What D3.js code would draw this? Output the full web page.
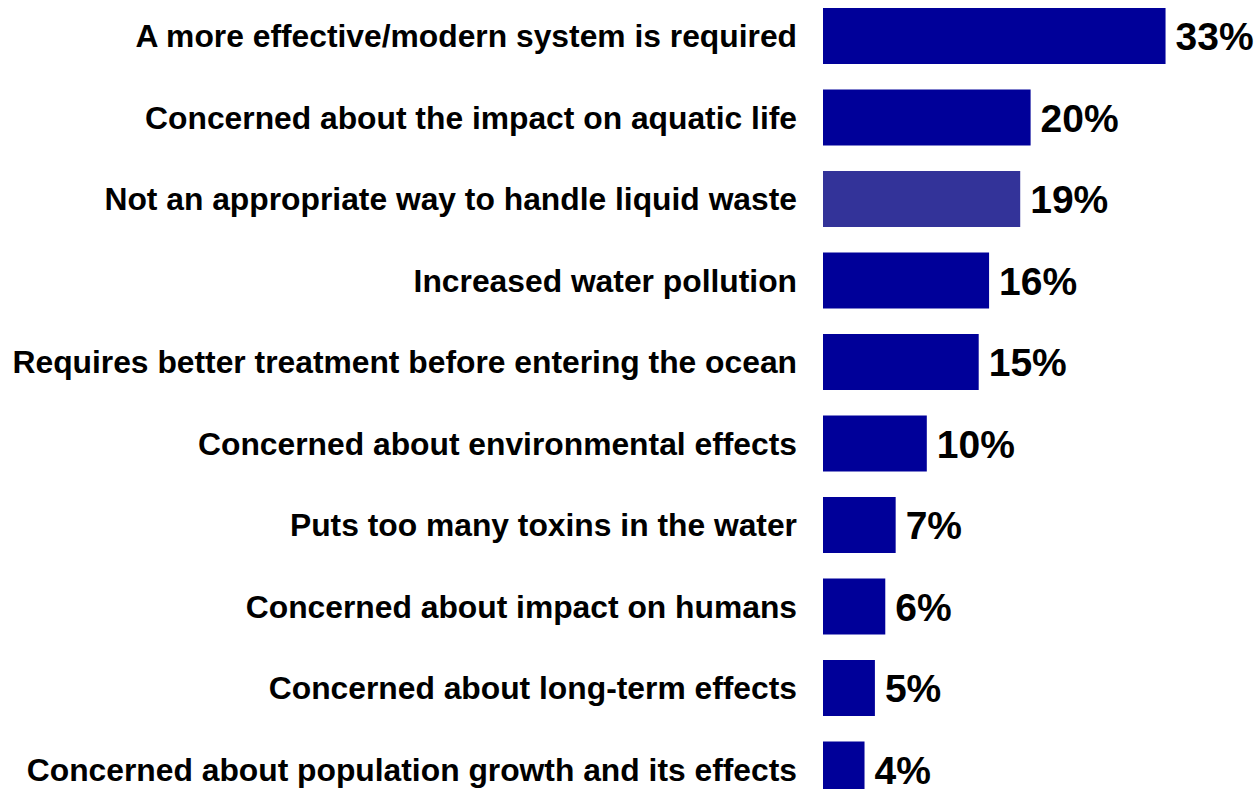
<!DOCTYPE html>
<html>
<head>
<meta charset="utf-8">
<script src="https://cdn.jsdelivr.net/npm/d3@7"></script>
<style>
  html, body { margin: 0; padding: 0; background: #fff; overflow: hidden; }
  svg { display: block; }
  text { font-family: "Liberation Sans", Arial, Helvetica, sans-serif; font-weight: bold; fill: #000; }
</style>
</head>
<body>
<svg id="chart" width="1259" height="789"></svg>
<script>
const categories = [
  "A more effective/modern system is required",
  "Concerned about the impact on aquatic life",
  "Not an appropriate way to handle liquid waste",
  "Increased water pollution",
  "Requires better treatment before entering the ocean",
  "Concerned about environmental effects",
  "Puts too many toxins in the water",
  "Concerned about impact on humans",
  "Concerned about long-term effects",
  "Concerned about population growth and its effects"
];
const values = [33, 20, 19, 16, 15, 10, 7, 6, 5, 4];
const highlighted = [false, false, true, false, false, false, false, false, false, false];
const valueLabels = ["33%", "20%", "19%", "16%", "15%", "10%", "7%", "6%", "5%", "4%"];

const colors = { normal: "#000099", highlight: "#333399" };

const svg = d3.select("#chart");

const step = 81.5;
const bandPad = 25.5 / step;
const y0 = 8 - (bandPad / 2) * step;
const y = d3.scaleBand()
  .domain(categories)
  .range([y0, y0 + categories.length * step])
  .paddingInner(bandPad)
  .paddingOuter(bandPad / 2);

const x = d3.scaleLinear().domain([0, 100]).range([823, 823 + 1038]);

const data = categories.map((c, i) => ({ c, v: values[i], h: highlighted[i], l: valueLabels[i] }));

svg.selectAll("rect.bar")
  .data(data)
  .join("rect")
  .attr("class", "bar")
  .attr("x", x(0))
  .attr("y", d => y(d.c))
  .attr("width", d => x(d.v) - x(0))
  .attr("height", y.bandwidth())
  .attr("fill", d => d.h ? colors.highlight : colors.normal);

svg.selectAll("text.cat")
  .data(data)
  .join("text")
  .attr("class", "cat")
  .attr("x", x(0) - 26)
  .attr("y", d => y(d.c) + y.bandwidth() / 2)
  .attr("dy", "0.36em")
  .attr("text-anchor", "end")
  .attr("font-size", 31.8)
  .text(d => d.c);

svg.selectAll("text.val")
  .data(data)
  .join("text")
  .attr("class", "val")
  .attr("x", d => x(d.v) + 10)
  .attr("y", d => y(d.c) + y.bandwidth() / 2)
  .attr("dy", "0.36em")
  .attr("text-anchor", "start")
  .attr("font-size", 39)
  .text(d => d.l);
</script>
</body>
</html>
